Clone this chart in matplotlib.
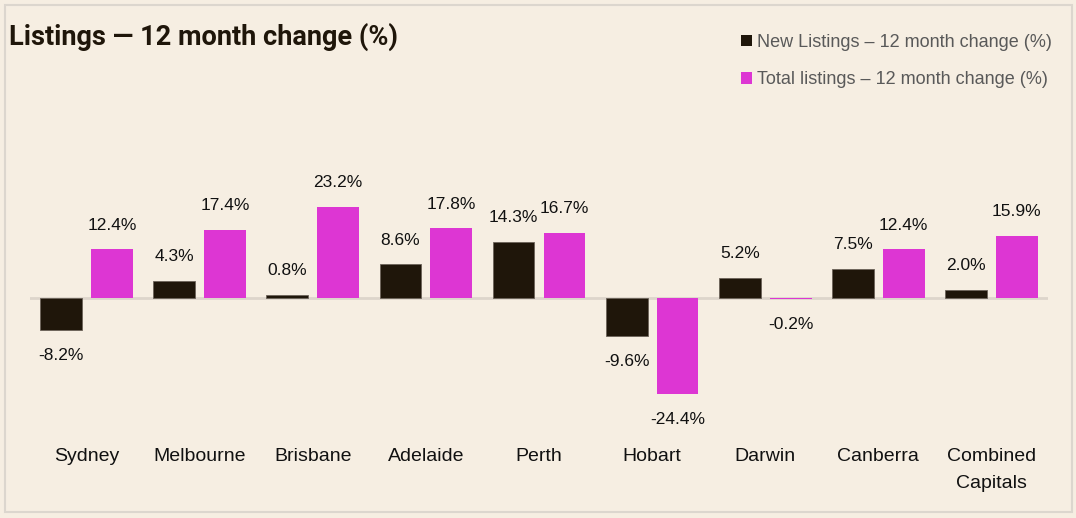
import numpy as np
import matplotlib.pyplot as plt
from matplotlib.patches import Patch, Rectangle

cities = ['Sydney', 'Melbourne', 'Brisbane', 'Adelaide', 'Perth', 'Hobart',
          'Darwin', 'Canberra', 'Combined\nCapitals']
new_listings = [-8.2, 4.3, 0.8, 8.6, 14.3, -9.6, 5.2, 7.5, 2.0]
total_listings = [12.4, 17.4, 23.2, 17.8, 16.7, -24.4, -0.2, 12.4, 15.9]

bg = '#F6EEE2'
dark = '#1F160A'
pink = '#DD36D3'

plt.rcParams['font.family'] = ['Liberation Sans', 'DejaVu Sans']

W, H = 1076, 518
fig = plt.figure(figsize=(W / 100, H / 100), dpi=100, facecolor=bg)

# axes placed in pixel terms: x 30..1048, y 120..430, zero line at y=298
px_per_unit = 3.92
top_px, bot_px, zero_px = 120, 430, 298
ax = fig.add_axes([30 / W, 1 - bot_px / H, (1048 - 30) / W, (bot_px - top_px) / H])
ax.set_facecolor(bg)
ax.set_ylim(-(bot_px - zero_px) / px_per_unit, (zero_px - top_px) / px_per_unit)
ax.set_xlim(-0.5, len(cities) - 0.5)

x = np.arange(len(cities))
w = 0.37
off = 0.225
b1 = ax.bar(x - off, new_listings, w, color=dark, edgecolor='#6b6259', linewidth=0.6, zorder=3)
b2 = ax.bar(x + off, total_listings, w, color=pink, zorder=3)
ax.axhline(0, color='#DDD5CB', lw=2, zorder=2)

for bars, vals in [(b1, new_listings), (b2, total_listings)]:
    for b, v in zip(bars, vals):
        cx = b.get_x() + b.get_width() / 2
        if v >= 0:
            ax.annotate(f'{v:.1f}%', (cx, v), xytext=(0, 12), textcoords='offset points',
                        ha='center', va='bottom', fontsize=12.5, color='#111111')
        else:
            ax.annotate(f'{v:.1f}%', (cx, v), xytext=(0, -13), textcoords='offset points',
                        ha='center', va='top', fontsize=12.5, color='#111111')

ax.set_xticks(x)
ax.set_xticklabels(cities, fontsize=14, color='#111111', linespacing=1.8)
ax.tick_params(axis='x', length=0, pad=13)
ax.set_yticks([])
for s in ax.spines.values():
    s.set_visible(False)

fig.text(9 / W, 1 - 37 / H, 'Listings \u2014 12 month change (%)', fontsize=19.5,
         fontweight='bold', family=['Roboto', 'DejaVu Sans'], color=dark, va='center')

handles = [Patch(facecolor=dark, label='New Listings \u2013 12 month change (%)'),
           Patch(facecolor=pink, label='Total listings \u2013 12 month change (%)')]
leg = fig.legend(handles=handles, loc='upper right', bbox_to_anchor=(1052 / W, 1 - 34 / H),
                 frameon=False, fontsize=13, handlelength=0.6, handleheight=0.6,
                 handletextpad=0.3, labelspacing=1.12, borderpad=0, borderaxespad=0)
for t in leg.get_texts():
    t.set_color('#595959')

fig.patches.append(Rectangle((5 / W, 6 / H), 1067 / W, 507 / H, transform=fig.transFigure,
                             fill=False, edgecolor='#DCD6CE', lw=1.5))

fig.savefig('out.png', dpi=100, facecolor=bg)
